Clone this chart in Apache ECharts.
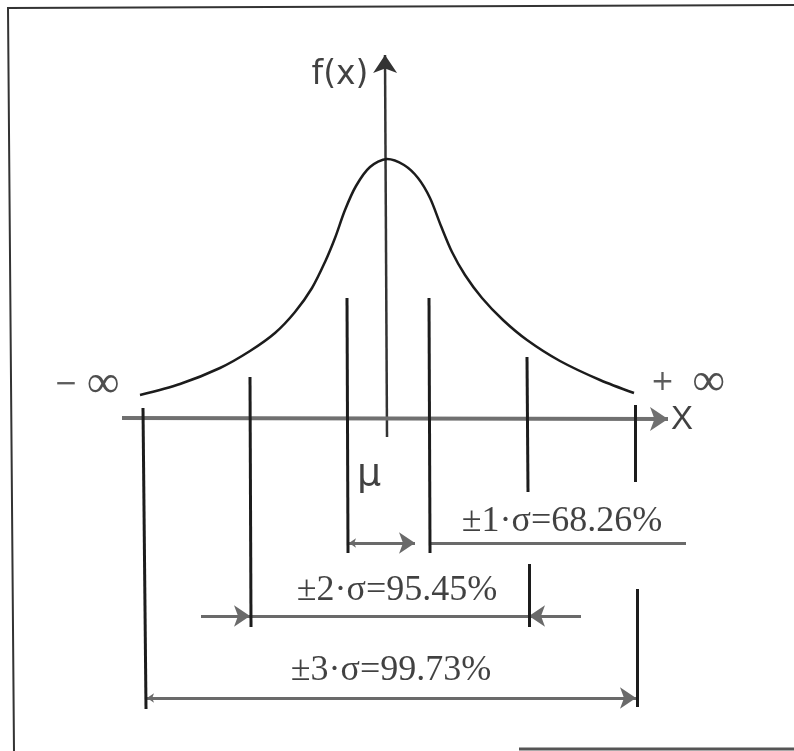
<!DOCTYPE html>
<html>
<head>
<meta charset="utf-8">
<script src="https://cdn.jsdelivr.net/npm/echarts@6/dist/echarts.min.js"></script>
<style>
  html, body { margin: 0; padding: 0; background: #fff; }
  #chart { width: 794px; height: 751px; }
</style>
</head>
<body>
<div id="chart"></div>
<script>
// bell curve (mu = 0, x and f(x) in drawing units)
const curveX = [-24.7, -20.7, -16.7, -13.7, -11.2, -9.2, -7.5, -6.2, -5.2, -4.2, -3.1, -1.7, 0, 1.7, 3.1, 4.3, 5.4, 6.5, 7.8, 9.5, 11.6, 14.0, 17.3, 21.3, 24.7];
const curveY = [2.4, 3.5, 5.1, 6.8, 8.6, 10.7, 13.1, 15.7, 18.1, 20.9, 23.3, 25.2, 26.0, 25.4, 24.1, 22.1, 19.3, 16.7, 14.4, 12.1, 9.9, 7.9, 5.8, 3.9, 2.6];

// where the +-1, +-2, +-3 sigma limits are drawn
const leftBounds = [-4.0, -13.7, -24.4];
const rightBounds = [4.2, 14.0, 24.8];
const sigmaLabels = ['±1·σ=68.26%', '±2·σ=95.45%', '±3·σ=99.73%'];

const chart = echarts.init(document.getElementById('chart'));

const ink = '#1c1c1c';
const grey = '#6a6a6a';

// dimension line levels
const dim1 = -12.4, dim2 = -19.7, dim3 = -27.9;

const seg = (a, b) => ({ coords: [a, b] });

const plainLines = [
  seg([leftBounds[2], 1.1], [leftBounds[2] + 0.3, -29.0]),
  seg([leftBounds[1], 4.2], [leftBounds[1] + 0.1, -20.8]),
  seg([leftBounds[0], 12.1], [leftBounds[0] + 0.1, -13.4]),
  seg([rightBounds[0], 12.1], [rightBounds[0] + 0.1, -13.4]),
  seg([rightBounds[1], 6.2], [rightBounds[1] + 0.1, -7.3]),
  seg([rightBounds[1] + 0.2, -14.5], [rightBounds[1] + 0.2, -20.8]),
  seg([rightBounds[2], 1.4], [rightBounds[2], -6.3]),
  seg([rightBounds[2] + 0.2, -17.0], [rightBounds[2] + 0.2, -28.8])
];

const greyLines = [
  seg([rightBounds[0] + 0.1, dim1], [29.9, dim1]),
  seg([leftBounds[1] + 0.1, dim2], [rightBounds[1] + 0.2, dim2])
];

const arrowLines = [
  seg([-18.6, dim2], [leftBounds[1], dim2]),
  seg([19.4, dim2], [rightBounds[1] + 0.2, dim2])
];

const doubleArrows = [
  seg([leftBounds[0] + 0.2, dim1], [2.8, dim1]),
  seg([leftBounds[2] + 0.4, dim3], [rightBounds[2] + 0.1, dim3])
];

const serif = 'Liberation Serif';
const labels = [
  { value: [-4.7, 34.4], text: 'f(x)', font: 'DejaVu Sans', size: 33 },
  { value: [-30.0, 3.4], text: '{s|−} {i|∞}', font: serif, size: 36 },
  { value: [30.1, 3.6], text: '{s|+}  {i|∞}', font: serif, size: 36 },
  { value: [29.5, -0.1], text: 'X', font: 'Liberation Sans', size: 33 },
  { value: [-1.8, -5.6], text: 'μ', font: 'DejaVu Sans', size: 38 },
  { value: [17.5, -10.3], text: sigmaLabels[0], font: serif, size: 36 },
  { value: [1.0, -17.2], text: sigmaLabels[1], font: serif, size: 36 },
  { value: [0.4, -25.2], text: sigmaLabels[2], font: serif, size: 36 }
];

const option = {
  animation: false,
  backgroundColor: '#fff',
  grid: { left: 0, right: 0, top: 0, bottom: 0 },
  xAxis: { type: 'value', min: -38.7, max: 40.7, show: false },
  yAxis: { type: 'value', min: -33.2, max: 41.9, show: false },
  graphic: [
    {
      type: 'polyline',
      shape: { points: [[14, 751], [8, 8], [794, 5]] },
      style: { stroke: '#333', lineWidth: 2, fill: null }
    },
    {
      type: 'line',
      shape: { x1: 519, y1: 749, x2: 794, y2: 749 },
      style: { stroke: '#555', lineWidth: 3 }
    }
  ],
  series: [
    {
      type: 'line',
      data: curveX.map((x, i) => [x, curveY[i]]),
      smooth: 0.3,
      showSymbol: false,
      lineStyle: { color: ink, width: 2.5 },
      z: 3
    },
    {
      type: 'lines',
      coordinateSystem: 'cartesian2d',
      data: plainLines,
      symbol: ['none', 'none'],
      lineStyle: { color: ink, width: 3, opacity: 1 },
      z: 4
    },
    {
      type: 'lines',
      coordinateSystem: 'cartesian2d',
      data: greyLines,
      symbol: ['none', 'none'],
      lineStyle: { color: grey, width: 3, opacity: 1 },
      z: 2
    },
    {
      // f(x) axis
      type: 'lines',
      coordinateSystem: 'cartesian2d',
      data: [seg([0, -1.8], [-0.2, 36.4])],
      symbol: ['none', 'arrow'],
      symbolSize: [8, 18],
      lineStyle: { color: '#333', width: 2.5, opacity: 1 },
      z: 2
    },
    {
      // x axis
      type: 'lines',
      coordinateSystem: 'cartesian2d',
      data: [seg([-26.5, 0.1], [28.1, 0])],
      symbol: ['none', 'arrow'],
      symbolSize: [9, 18],
      lineStyle: { color: '#707070', width: 4, opacity: 1 },
      z: 2
    },
    {
      type: 'lines',
      coordinateSystem: 'cartesian2d',
      data: arrowLines,
      symbol: ['none', 'arrow'],
      symbolSize: [7, 16],
      lineStyle: { color: grey, width: 3, opacity: 1 },
      z: 2
    },
    {
      type: 'lines',
      coordinateSystem: 'cartesian2d',
      data: doubleArrows,
      symbol: ['arrow', 'arrow'],
      symbolSize: [7, 16],
      lineStyle: { color: grey, width: 3, opacity: 1 },
      z: 2
    },
    {
      type: 'scatter',
      symbolSize: 0,
      silent: true,
      data: labels.map(l => ({
        value: l.value,
        label: {
          show: true,
          position: 'inside',
          formatter: l.text,
          fontFamily: l.font,
          fontSize: l.size,
          color: '#111',
          rich: {
            s: { fontFamily: 'DejaVu Sans', fontSize: 28, color: '#333' },
            i: { fontFamily: serif, fontSize: 46, color: '#222' }
          }
        }
      })),
      z: 5
    }
  ]
};

chart.setOption(option);
</script>
</body>
</html>
